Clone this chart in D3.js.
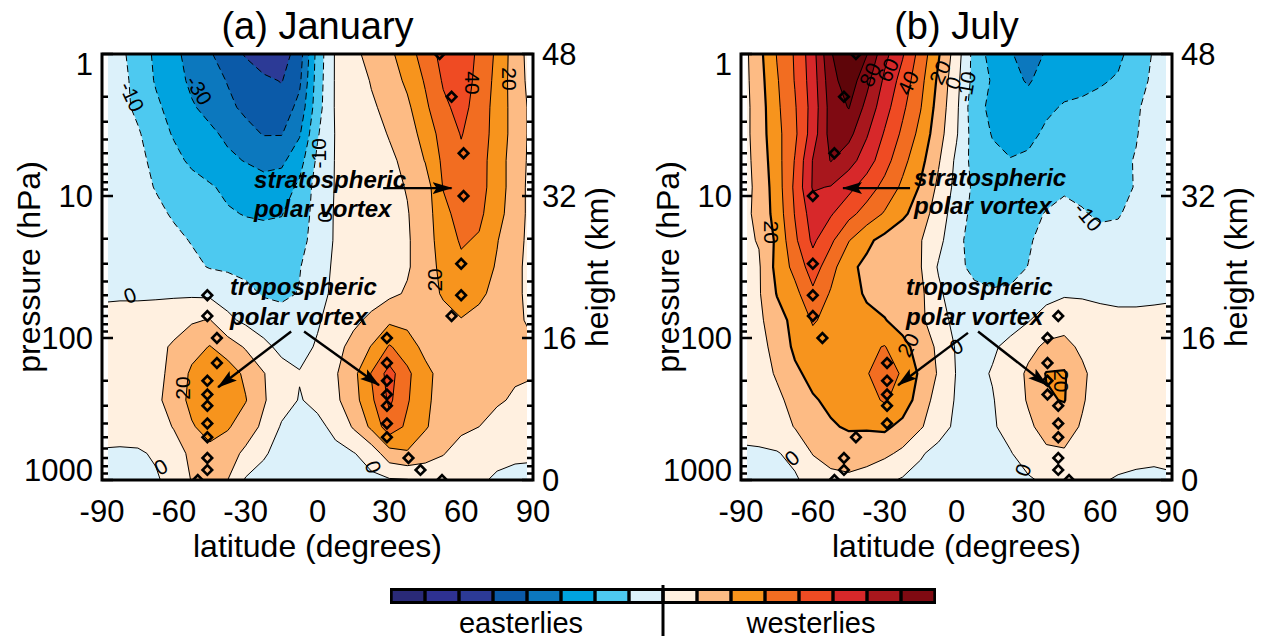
<!DOCTYPE html>
<html>
<head>
<meta charset="utf-8">
<script src="https://cdn.jsdelivr.net/npm/d3@7"></script>
<style>
body { margin: 0; background: #fff; }
text { font-family: "Liberation Sans", Arial, Helvetica, sans-serif; fill: #000; }
</style>
</head>
<body>
<div id="chart"></div>
<script>
var chart_width = 1263;
var chart_height = 640;

// grid: latitude columns (deg) and height rows (km), rows run from the surface up
var lats = [-90, -82.5, -75, -67.5, -60, -52.5, -45, -37.5, -30, -22.5, -15, -7.5, 0,
            7.5, 15, 22.5, 30, 37.5, 45, 52.5, 60, 67.5, 75, 82.5, 90];
var heights = [0, 3, 6, 9, 12, 15, 18, 21, 24, 27, 30, 33, 36, 39, 42, 45, 48];

// zonal mean zonal wind (m/s), January
var janWind = [
  [-2, -2, -2, -1, 3, 10.5, 12, 10, -1, -3, -4, -4, -3, -3, -2, -2, -1, -0.5, 3, 4, 3, 1, -1, -1.5, -1],
  [-0.5, -1, -1, 1, 6, 12, 17, 14, 8, 1, -3, -4, -3, -2, -0.5, 4, 16, 19, 14, 10.5, 6, 4, 2, 1, 0.5],
  [2, 3, 4, 6, 10.5, 19, 24, 21, 15, 8, -1, -3, -2, 2, 11, 22, 36, 28, 21, 15, 12, 10, 7, 5, 4],
  [3, 4, 5, 8, 14, 23, 28, 26, 20.5, 11, 4, -0.5, 2, 8, 16, 28, 42, 31, 22, 16, 13, 12, 11, 9, 8],
  [4, 5, 6, 8, 12, 22, 27, 25, 18, 10.5, 3, 0.5, 3, 9, 17, 30.5, 44, 32, 23, 16, 14, 13, 12, 11, 10.5],
  [4, 5, 6, 8, 11, 16, 20.5, 15, 9, 2, -2, -3, 1, 7, 13, 20.5, 31, 25, 17, 15, 15, 14, 13, 12, 11],
  [3, 4, 4, 5, 7, 9, 10.5, 2, -2, -4, -6, -5, -1, 4, 8, 12, 18, 17, 15, 17, 19.5, 17, 14, 12, 8],
  [-1.5, -1.5, -1.5, -1.5, -1.5, -1.5, -2, -4, -7, -11, -12, -9.5, -3, 2, 4, 6, 8, 11, 16, 21, 25, 22, 17, 12, 7],
  [-2, -3, -4, -5, -6, -8, -10.5, -11.5, -13, -13, -12, -10.5, -4, 1.5, 3, 5, 7, 9, 15, 23, 28, 25, 19, 12, 7],
  [-2, -3, -5, -6, -8, -10.5, -13, -15, -16, -17, -16, -13, -6, 1, 3, 5, 7, 9, 15, 25, 31, 29, 20.5, 13, 7],
  [-2, -4, -6, -8, -11, -14, -17, -19, -20.5, -21, -20.5, -14, -7, 1, 3.5, 5.5, 7.5, 9.5, 15, 27, 34, 32, 24, 14, 7],
  [-2, -4, -7, -10.5, -13, -16, -19, -22, -24, -26, -25, -18, -6, 0.5, 3, 5, 7.5, 10.5, 15, 30.5, 36, 33, 26, 14, 7],
  [-3, -5, -8, -12, -17, -22, -25, -28, -30.5, -33, -32, -24, -8, 0.5, 3.5, 6, 8.5, 12, 20.5, 32, 38, 34, 25, 15, 7],
  [-3, -6, -9, -15, -21, -25, -28, -32, -37, -40.5, -40.5, -31, -11, 0.5, 4, 7, 10.5, 15, 24, 34, 40.5, 35, 26, 16, 7],
  [-3, -7, -12, -18, -24, -29, -33, -38, -42, -45, -46, -37, -14, 1, 5, 9, 12, 18, 28, 38, 43, 36, 26, 16, 7],
  [-4, -7, -13, -21, -26, -32, -36, -40.5, -44, -48, -50.5, -42, -15, 1, 6, 10.5, 15, 22, 31, 41, 45, 37, 27, 15, 6],
  [-4, -8, -14, -22, -28, -33, -39, -45, -51, -56, -55, -45, -16, 1, 7, 14, 18, 25, 35, 43, 46, 38, 28, 15, 5]
];

// zonal mean zonal wind (m/s), July
var julWind = [
  [-2, -2, -1.5, -1, 3, 7, 8, 6, 2, -1, -3, -4, -4, -4, -3.5, -2.5, -1, 1.5, 3, 2, 0.5, -0.5, -1, -1, -0.5],
  [-1, -1, -0.5, 2, 10.5, 14, 15, 14, 12, 8, 1, -3, -4, -4, -3, -0.5, 4, 8, 9, 6, 3, 2, 1.5, 1, 1],
  [2, 3, 5, 10.5, 15, 19, 21, 21, 22, 17, 11, 4, -2, -4, -1, 3, 8, 14, 14, 9, 4, 3, 2, 1.5, 1],
  [3, 5, 8, 13, 19, 22, 24, 27, 31, 26, 15, 6, -1, -3, -0.5, 4, 11, 19, 20.5, 11, 5, 3, 2.5, 2, 2],
  [4, 6, 11, 18, 23, 24, 25, 29.5, 34, 29, 18, 9, -0.5, -2, 0.5, 4, 12, 20.5, 21, 12, 5, 3, 2.5, 2, 2],
  [5, 7, 13, 22, 26, 27, 26, 28, 30.5, 23, 16, 8, -1, -3, -1, 2, 7, 12, 13, 8, 4, 3, 2.5, 2, 2],
  [6, 8, 16, 23, 31, 27, 24, 22, 20.5, 16, 12, 4, -3, -5, -5, -3, -0.5, 4, 6, 4, 2.5, 2, 2, 2, 2],
  [7, 9, 20.5, 27, 38, 29, 23, 19, 16, 14, 12, 2, -6, -8, -9, -8.5, -6, -3, -1, -1, -1.5, -2, -2, -1.5, -1],
  [8, 9, 23, 33, 45, 34, 22, 18, 15, 13, 10.5, -1, -8, -12, -13.5, -13, -9.8, -6, -4, -4.5, -5.5, -5.5, -4.5, -3, -2],
  [8, 10.5, 22, 38, 52, 42, 30.5, 22, 17, 13, 10.5, 3, -8, -13, -14, -13.5, -11, -7, -5.5, -6.5, -8, -8, -6, -4, -3],
  [6, 13, 24, 40.5, 55, 51, 43, 36, 29, 22, 15, 5, -5, -13, -14, -14, -12.5, -9.5, -8, -9.5, -11, -10.5, -8, -5, -3],
  [5, 13, 25, 42, 61, 59.5, 53, 45, 37, 28, 19, 8, -3, -12, -16, -17, -16, -13, -11, -11.5, -12, -12.5, -9.5, -6, -4],
  [5, 14, 26, 40.5, 60.5, 70.5, 64, 55, 44, 33, 23, 11, -2, -14, -18, -19.5, -18, -15, -13.5, -13, -12.5, -12, -9.5, -6, -4],
  [5, 15, 27, 38, 55, 74, 73, 61, 49, 38, 27, 14, 1, -15, -20.5, -24, -23, -18, -16, -15, -14, -13, -10.5, -6, -4],
  [5, 15, 28, 39, 54, 74, 80.5, 67, 54, 42, 30.5, 16, 2, -17, -22, -26, -26, -22, -19, -18, -17, -15, -11, -7, -4],
  [5, 16, 29, 40.5, 55, 76, 86, 73, 58, 46, 33, 18, 3, -14, -21, -27, -31, -26, -24, -23, -21, -19, -14, -8, -4],
  [5, 17, 30.5, 41, 56, 79, 90, 80.5, 63, 51, 36, 21, 5, -14, -24, -29, -35, -29, -27, -26, -25, -22, -16, -9, -4]
];

// jet core latitude at each pressure level (diamonds)
var janJetP   = [1, 2, 5, 10, 30, 50, 70, 100, 150, 200, 250, 300, 400, 500, 700, 850, 1000];
var janJetNH  = [51, 56, 61, 61, 60, 60, 56, 29, 29, 29, 29, 29, 29, 29, 38, 43, 52];
var janJetSHP = [50, 70, 100, 150, 200, 250, 300, 400, 500, 700, 850, 1000];
var janJetSH  = [-46, -46, -42, -42, -46, -46, -46, -46, -46, -46, -46, -50];
var julJetP   = [1, 2, 5, 10, 30, 50, 70, 100, 150, 200, 250, 300, 400, 500, 700, 850, 1000];
var julJetSH  = [-42, -47, -51, -60, -60, -60, -60, -56, -29, -29, -29, -29, -29, -42, -47, -47, -51];
var julJetNHP = [70, 100, 150, 200, 250, 300, 400, 500, 700, 850, 1000];
var julJetNH  = [42.5, 38, 38, 38, 38, 42.5, 42.5, 42.5, 42.5, 42.5, 47];

// contour levels and colours
var levels = [-80, -70, -60, -50, -40, -30, -20, -10, 0, 10, 20, 30, 40, 50, 60, 70, 80, 90];
var eastColors = ['#2a2a78', '#2e3192', '#2c3a96', '#0b5aa8', '#0c78be', '#00a3df', '#4dc9f0', '#dcf1fa'];
var westColors = ['#fff0e0', '#fdbb84', '#f7941d', '#f26d21', '#ef4b23', '#d7282a', '#a8171d', '#7f0a12'];
var coreColor = '#5e0509';

// axis ticks
var presTicks = [1, 10, 100, 1000];
var heightTicks = [0, 16, 32, 48];
var latTicks = [-90, -60, -30, 0, 30, 60, 90];

// contour value labels
var janLabels = [
  {t: '-10', lat: -77.5, p: 2.0, r: 65}, {t: '-30', lat: -49.5, p: 1.8, r: 58},
  {t: '-10', lat: 0.6, p: 5, r: -90}, {t: '0', lat: 3.1, p: 14, r: 90},
  {t: '40', lat: 64.6, p: 1.6, r: 90}, {t: '20', lat: 80, p: 1.5, r: 90},
  {t: '20', lat: 49.1, p: 39, r: -90}, {t: '0', lat: -78.3, p: 50, r: -20},
  {t: '20', lat: -56.2, p: 225, r: -90}, {t: '0', lat: -65.4, p: 810, r: -30},
  {t: '0', lat: 23.2, p: 810, r: 70}
];
var julLabels = [
  {t: '80', lat: -36.1, p: 1.4, r: -65}, {t: '60', lat: -28.6, p: 1.3, r: -65},
  {t: '40', lat: -20.2, p: 1.6, r: -65}, {t: '20', lat: -6.9, p: 1.35, r: -65},
  {t: '0', lat: -1.4, p: 1.6, r: -70}, {t: '-10', lat: 4, p: 1.7, r: -80},
  {t: '20', lat: -77.5, p: 18, r: 90}, {t: '-10', lat: 55, p: 14, r: 50},
  {t: '20', lat: -20.2, p: 112, r: -62}, {t: '0', lat: 0, p: 115, r: -30},
  {t: '0', lat: -68.7, p: 700, r: -40}, {t: '0', lat: 27.8, p: 850, r: -70},
  {t: '20', lat: 43.7, p: 200, r: 90}
];

// annotations (text start, arrows from -> to)
var janNotes = {
  strat: {lat: -26.5, p: 8.8, p2: 14}, stratArrow: [[27.4, 8.8], [56, 8.8]],
  trop: {lat: -36.5, p: 50, p2: 81},
  tropArrows: [[[-11, 90], [-41.5, 222]], [[-5.6, 90], [25.7, 215]]]
};
var julNotes = {
  strat: {lat: -17.7, p: 8.5, p2: 13.3}, stratArrow: [[-19.4, 8.8], [-47.4, 8.8]],
  trop: {lat: -21.1, p: 50, p2: 81},
  tropArrows: [[[4.8, 92], [-24.4, 215]], [[9, 90], [37.8, 215]]]
};

// layout
var plot_w = 431;
var plot_top = 54;
var plot_bottom = 480;

var yP = d3.scaleLog().domain([1000, 1]).range([plot_bottom, plot_top]);
var yZ = d3.scaleLinear().domain([0, 48]).range([plot_bottom, plot_top]);
var latOf = d3.scaleLinear().domain([0.5, lats.length - 0.5]).range([lats[0], lats[lats.length - 1]]);
var zOf = d3.scaleLinear().domain([0.5, heights.length - 0.5]).range([heights[0], heights[heights.length - 1]]);
var bandColor = d3.scaleThreshold()
    .domain(levels.slice(1, 17))
    .range(eastColors.concat(westColors, [coreColor]));

var svg = d3.select('#chart')
            .append('svg')
            .attr('width', chart_width)
            .attr('height', chart_height);
var defs = svg.append('defs');
defs.append('marker')
    .attr('id', 'arrow')
    .attr('markerUnits', 'userSpaceOnUse')
    .attr('markerWidth', 20).attr('markerHeight', 16)
    .attr('refX', 19).attr('refY', 8)
    .attr('orient', 'auto')
    .append('path')
    .attr('d', 'M0,2 L20,8 L0,14 L4,8 Z')
    .attr('fill', '#000');

function isMajor(v) {
    return Math.abs(Math.log10(v) - Math.round(Math.log10(v))) < 1e-6;
}

function drawPanel(cfg) {
    var x = d3.scaleLinear().domain([-90, 90]).range([cfg.left, cfg.left + plot_w]);
    var g = svg.append('g');

    defs.append('clipPath').attr('id', 'field' + cfg.id)
        .append('rect')
        .attr('x', x(-87.5)).attr('y', plot_top)
        .attr('width', x(87.5) - x(-87.5)).attr('height', plot_bottom - plot_top);
    defs.append('clipPath').attr('id', 'plot' + cfg.id)
        .append('rect')
        .attr('x', x(-90)).attr('y', plot_top)
        .attr('width', plot_w).attr('height', plot_bottom - plot_top);

    var contours = d3.contours()
        .size([lats.length, heights.length])
        .thresholds(levels)(d3.merge(cfg.wind));

    var proj = d3.geoTransform({
        point: function(cx, cy) {
            this.stream.point(x(latOf(cx)), yZ(zOf(cy)));
        }
    });
    var path = d3.geoPath(proj);

    var field = g.append('g').attr('clip-path', 'url(#field' + cfg.id + ')');
    field.selectAll('path.fill')
        .data(contours)
        .enter()
        .append('path')
        .attr('class', 'fill')
        .attr('d', path)
        .attr('fill', function(d) { return bandColor(d.value); })
        .attr('stroke', function(d) { return bandColor(d.value); })
        .attr('stroke-width', 0.6);
    field.selectAll('path.line')
        .data(contours.filter(function(d) { return d.value > -80 && d.value < 90; }))
        .enter()
        .append('path')
        .attr('class', 'line')
        .attr('d', path)
        .attr('fill', 'none')
        .attr('stroke', '#000')
        .attr('stroke-width', function(d) { return d.value === cfg.boldLevel ? 2.2 : 1; })
        .attr('stroke-dasharray', function(d) { return d.value < 0 ? '7,4' : null; });

    // contour labels
    g.selectAll('text.clab')
        .data(cfg.labels)
        .enter()
        .append('text')
        .attr('class', 'clab')
        .attr('transform', function(d) {
            return 'translate(' + x(d.lat) + ',' + yP(d.p) + ') rotate(' + d.r + ')';
        })
        .attr('text-anchor', 'middle')
        .attr('dy', '0.35em')
        .attr('font-size', 21)
        .text(function(d) { return d.t; });

    // jet diamonds
    var jets = g.append('g').attr('clip-path', 'url(#plot' + cfg.id + ')');
    jets.selectAll('path')
        .data(cfg.jets)
        .enter()
        .append('path')
        .attr('d', d3.symbol(d3.symbolSquare, 46))
        .attr('transform', function(d) {
            return 'translate(' + x(d.lat) + ',' + yP(d.p) + ') rotate(45)';
        })
        .attr('fill', 'none')
        .attr('stroke', '#000')
        .attr('stroke-width', 2.6);

    // annotations
    var n = cfg.notes;
    var ann = g.append('g')
        .attr('font-size', 24)
        .attr('font-weight', 'bold')
        .attr('font-style', 'italic');
    ann.append('text').attr('x', x(n.strat.lat)).attr('y', yP(n.strat.p)).text('stratospheric');
    ann.append('text').attr('x', x(n.strat.lat)).attr('y', yP(n.strat.p2)).text('polar vortex');
    ann.append('text').attr('x', x(n.trop.lat)).attr('y', yP(n.trop.p)).text('tropospheric');
    ann.append('text').attr('x', x(n.trop.lat)).attr('y', yP(n.trop.p2)).text('polar vortex');
    var arrows = [n.stratArrow].concat(n.tropArrows);
    g.selectAll('line.arrow')
        .data(arrows)
        .enter()
        .append('line')
        .attr('class', 'arrow')
        .attr('x1', function(d) { return x(d[0][0]); })
        .attr('y1', function(d) { return yP(d[0][1]); })
        .attr('x2', function(d) { return x(d[1][0]); })
        .attr('y2', function(d) { return yP(d[1][1]); })
        .attr('stroke', '#000')
        .attr('stroke-width', 2.4)
        .attr('marker-end', 'url(#arrow)');

    // frame
    g.append('rect')
        .attr('x', x(-90)).attr('y', plot_top)
        .attr('width', plot_w).attr('height', plot_bottom - plot_top)
        .attr('fill', 'none')
        .attr('stroke', '#000')
        .attr('stroke-width', 3);

    // pressure ticks on both sides, pointing inwards
    var pt = yP.ticks();
    g.selectAll('line.tl')
        .data(pt)
        .enter()
        .append('line')
        .attr('x1', x(-90))
        .attr('x2', function(d) { return x(-90) + (isMajor(d) ? 11 : 6); })
        .attr('y1', yP).attr('y2', yP)
        .attr('stroke', '#000').attr('stroke-width', 2.5);
    g.selectAll('line.tr')
        .data(pt)
        .enter()
        .append('line')
        .attr('x1', x(90))
        .attr('x2', function(d) { return x(90) - (isMajor(d) ? 11 : 6); })
        .attr('y1', yP).attr('y2', yP)
        .attr('stroke', '#000').attr('stroke-width', 2.5);

    // tick labels
    g.selectAll('text.pl')
        .data(presTicks)
        .enter()
        .append('text')
        .attr('x', x(-90) - 9)
        .attr('y', function(d) { return Math.min(Math.max(yP(d), plot_top + 10), plot_bottom - 10); })
        .attr('dy', '0.36em')
        .attr('text-anchor', 'end')
        .attr('font-size', 31)
        .text(function(d) { return d; });
    g.selectAll('text.hl')
        .data(heightTicks)
        .enter()
        .append('text')
        .attr('x', x(90) + 9)
        .attr('y', yZ)
        .attr('dy', '0.36em')
        .attr('text-anchor', 'start')
        .attr('font-size', 31)
        .text(function(d) { return d; });
    g.selectAll('text.ll')
        .data(latTicks)
        .enter()
        .append('text')
        .attr('x', x)
        .attr('y', 522)
        .attr('text-anchor', 'middle')
        .attr('font-size', 31)
        .text(function(d) { return d; });

    // titles
    var mid = (yP(1) + yP(1000)) / 2;
    g.append('text')
        .attr('x', x(0)).attr('y', 39)
        .attr('text-anchor', 'middle')
        .attr('font-size', 38)
        .text(cfg.title);
    g.append('text')
        .attr('x', x(0)).attr('y', 557)
        .attr('text-anchor', 'middle')
        .attr('font-size', 32)
        .text('latitude (degrees)');
    g.append('text')
        .attr('transform', 'translate(' + (x(-90) - 62) + ',' + mid + ') rotate(-90)')
        .attr('text-anchor', 'middle')
        .attr('font-size', 32)
        .text('pressure (hPa)');
    g.append('text')
        .attr('transform', 'translate(' + (x(90) + 75) + ',' + mid + ') rotate(-90)')
        .attr('text-anchor', 'middle')
        .attr('font-size', 32)
        .text('height (km)');
}

function jetPoints(p, lat) {
    return p.map(function(v, i) { return {p: v, lat: lat[i]}; });
}

drawPanel({
    id: 'a', left: 102, title: '(a) January', wind: janWind, boldLevel: null,
    jets: jetPoints(janJetP, janJetNH).concat(jetPoints(janJetSHP, janJetSH)),
    labels: janLabels, notes: janNotes
});
drawPanel({
    id: 'b', left: 741, title: '(b) July', wind: julWind, boldLevel: 20,
    jets: jetPoints(julJetP, julJetSH).concat(jetPoints(julJetNHP, julJetNH)),
    labels: julLabels, notes: julNotes
});

// colour bar
var bar = svg.append('g');
var barColors = eastColors.concat(westColors);
var bx = d3.scaleBand().domain(d3.range(barColors.length)).range([391, 935]).paddingInner(0.1).paddingOuter(0.05);
bar.append('rect')
    .attr('x', 390).attr('y', 588)
    .attr('width', 546).attr('height', 16)
    .attr('fill', '#000');
bar.selectAll('rect.box')
    .data(barColors)
    .enter()
    .append('rect')
    .attr('class', 'box')
    .attr('x', function(d, i) { return bx(i); })
    .attr('y', 591)
    .attr('width', bx.bandwidth())
    .attr('height', 10)
    .attr('fill', function(d) { return d; });
bar.append('line')
    .attr('x1', 663).attr('x2', 663)
    .attr('y1', 585).attr('y2', 636)
    .attr('stroke', '#000').attr('stroke-width', 3);
bar.append('text')
    .attr('x', 521).attr('y', 633)
    .attr('text-anchor', 'middle')
    .attr('font-size', 29)
    .text('easterlies');
bar.append('text')
    .attr('x', 811).attr('y', 633)
    .attr('text-anchor', 'middle')
    .attr('font-size', 29)
    .text('westerlies');
</script>
</body>
</html>
